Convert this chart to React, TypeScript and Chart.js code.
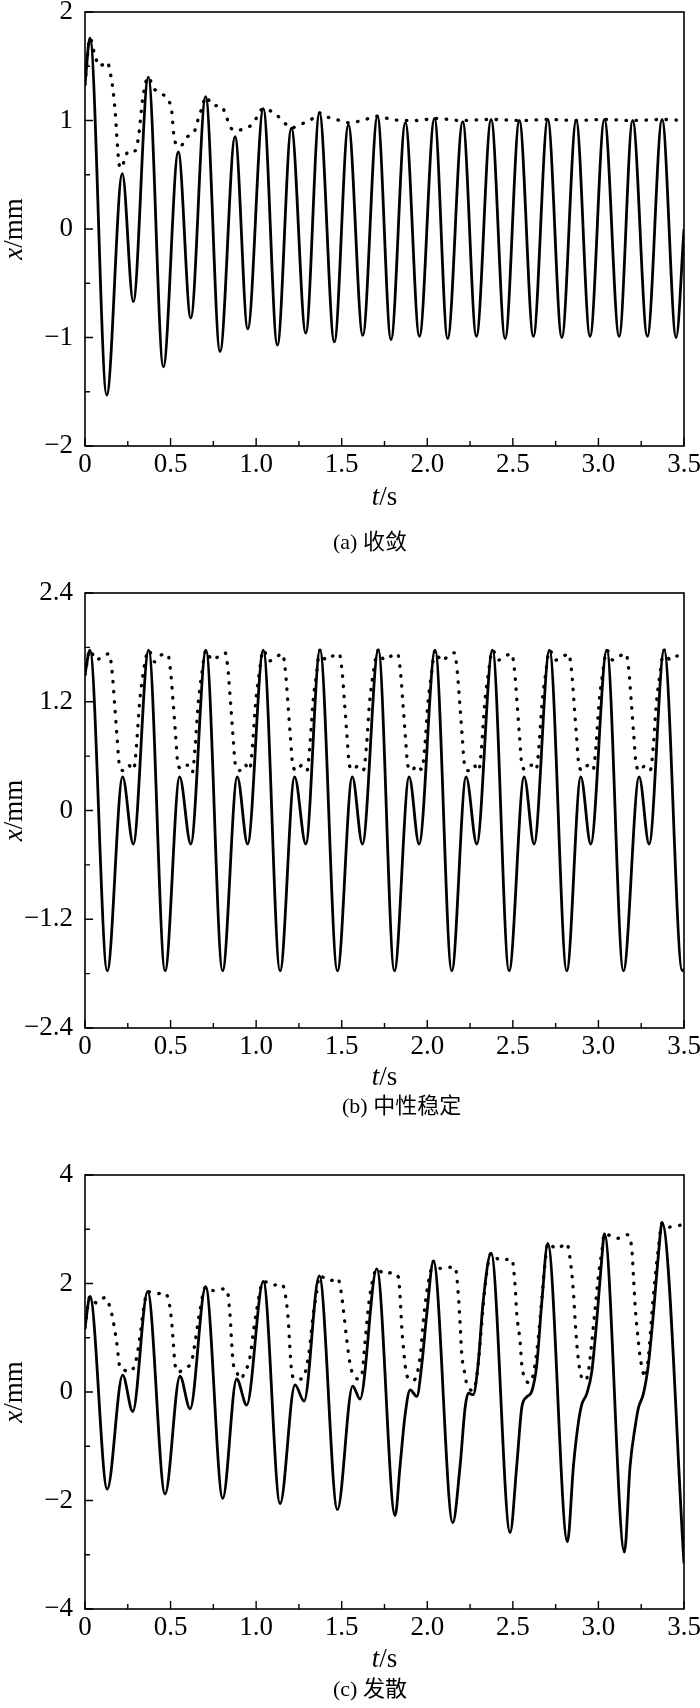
import React, { useEffect, useRef } from "react";
import { Chart, registerables } from "chart.js";

Chart.register(...registerables);

// ---------- shared axis data ----------
const xTickValues = [0, 0.5, 1, 1.5, 2, 2.5, 3, 3.5];
const xTickLabels = ["0", "0.5", "1.0", "1.5", "2.0", "2.5", "3.0", "3.5"];
const xMinorTicks = [0.25, 0.75, 1.25, 1.75, 2.25, 2.75, 3.25];

// ---------- panel (a) 收敛 ----------
const aYTicks = [-2, -1, 0, 1, 2];
const aYLabels = ["\u22122", "\u22121", "0", "1", "2"];
const aYMinor = [-1.5, -0.5, 0.5, 1.5];
const aSolidT = [0, 0.029, 0.127, 0.218, 0.282, 0.37, 0.458, 0.545, 0.618, 0.705, 0.789, 0.877, 0.951, 1.042, 1.124, 1.206, 1.29, 1.37, 1.457, 1.539, 1.623, 1.709, 1.788, 1.872, 1.954, 2.042, 2.119, 2.207, 2.287, 2.373, 2.455, 2.538, 2.62, 2.704, 2.786, 2.87, 2.951, 3.035, 3.121, 3.2, 3.286, 3.372, 3.454, 3.5];
const aSolidX = [1.33, 1.76, -1.53, 0.51, -0.67, 1.40, -1.27, 0.71, -0.82, 1.22, -1.13, 0.85, -0.92, 1.11, -1.07, 0.93, -0.96, 1.07, -1.04, 0.96, -0.98, 1.04, -1.02, 0.98, -0.99, 1.02, -1.01, 0.99, -0.99, 1.01, -1.01, 1.0, -0.99, 1.01, -1.0, 1.0, -0.99, 1.01, -0.99, 1.0, -0.99, 1.01, -1.0, 0.0];
const aDotT = [0, 0.029, 0.058, 0.084, 0.13, 0.15, 0.162, 0.177, 0.187, 0.2, 0.21, 0.234, 0.253, 0.292, 0.312, 0.321, 0.337, 0.37, 0.4, 0.442, 0.481, 0.507, 0.52, 0.53, 0.555, 0.598, 0.637, 0.659, 0.688, 0.705, 0.746, 0.799, 0.818, 0.844, 0.867, 0.925, 0.98, 1.042, 1.12, 1.178, 1.206, 1.25, 1.315, 1.37, 1.42, 1.49, 1.539, 1.62, 1.709, 1.79, 1.872, 1.95, 2.042, 2.2, 2.373, 2.55, 2.704, 2.87, 3.035, 3.2, 3.372, 3.5];
const aDotX = [1.33, 1.76, 1.60, 1.50, 1.54, 1.42, 1.30, 1.07, 0.83, 0.59, 0.56, 0.65, 0.72, 0.72, 0.84, 0.96, 1.20, 1.40, 1.30, 1.25, 1.20, 1.08, 0.85, 0.79, 0.76, 0.85, 0.89, 1.0, 1.14, 1.22, 1.14, 1.13, 1.07, 0.96, 0.91, 0.92, 0.97, 1.11, 1.05, 0.96, 0.93, 0.96, 1.0, 1.07, 1.03, 1.0, 0.98, 1.0, 1.04, 1.01, 1.0, 1.0, 1.02, 1.0, 1.01, 1.0, 1.01, 1.0, 1.01, 1.0, 1.01, 1.0];

// ---------- panel (b) 中性稳定 ----------
const bYTicks = [-2.4, -1.2, 0, 1.2, 2.4];
const bYLabels = ["\u22122.4", "\u22121.2", "0", "1.2", "2.4"];
const bYMinor = [-1.8, -0.6, 0.6, 1.8];
const bSolidT = [0,
  0.029, 0.13, 0.22, 0.282,
  0.372, 0.468, 0.553, 0.618,
  0.707, 0.804, 0.89, 0.95,
  1.042, 1.14, 1.225, 1.29,
  1.373, 1.475, 1.562, 1.621,
  1.714, 1.808, 1.894, 1.952,
  2.046, 2.143, 2.227, 2.289,
  2.381, 2.478, 2.566, 2.624,
  2.714, 2.815, 2.897, 2.955,
  3.049, 3.146, 3.238, 3.296,
  3.384, 3.49, 3.5];
const bSolidX = [1.5,
  1.77, -1.77, 0.37, -0.37,
  1.77, -1.77, 0.37, -0.37,
  1.77, -1.77, 0.37, -0.37,
  1.77, -1.77, 0.37, -0.37,
  1.77, -1.77, 0.37, -0.37,
  1.77, -1.77, 0.37, -0.37,
  1.77, -1.77, 0.37, -0.37,
  1.77, -1.77, 0.37, -0.37,
  1.77, -1.77, 0.37, -0.37,
  1.77, -1.77, 0.37, -0.37,
  1.77, -1.77, -1.75];
const bDotT = [0,
  0.029, 0.064, 0.109, 0.141, 0.159, 0.174, 0.187, 0.201, 0.224, 0.254, 0.284, 0.301, 0.317, 0.339,
  0.372, 0.407, 0.452, 0.484, 0.502, 0.517, 0.530, 0.544, 0.567, 0.597, 0.627, 0.644, 0.660, 0.682,
  0.707, 0.742, 0.787, 0.819, 0.837, 0.852, 0.865, 0.879, 0.902, 0.932, 0.962, 0.979, 0.995, 1.017,
  1.042, 1.077, 1.122, 1.154, 1.172, 1.187, 1.200, 1.214, 1.237, 1.267, 1.297, 1.314, 1.330, 1.352,
  1.373, 1.408, 1.453, 1.485, 1.503, 1.518, 1.531, 1.545, 1.568, 1.598, 1.628, 1.645, 1.661, 1.683,
  1.714, 1.749, 1.794, 1.826, 1.844, 1.859, 1.872, 1.886, 1.909, 1.939, 1.969, 1.986, 2.002, 2.024,
  2.046, 2.081, 2.126, 2.158, 2.176, 2.191, 2.204, 2.218, 2.241, 2.271, 2.301, 2.318, 2.334, 2.356,
  2.381, 2.416, 2.461, 2.493, 2.511, 2.526, 2.539, 2.553, 2.576, 2.606, 2.636, 2.653, 2.669, 2.691,
  2.714, 2.749, 2.794, 2.826, 2.844, 2.859, 2.872, 2.886, 2.909, 2.939, 2.969, 2.986, 3.002, 3.024,
  3.049, 3.084, 3.129, 3.161, 3.179, 3.194, 3.207, 3.221, 3.244, 3.274, 3.304, 3.321, 3.337, 3.359,
  3.384, 3.419, 3.464, 3.5];
const bDotX = [1.5,
  1.77, 1.66, 1.71, 1.73, 1.52, 1.15, 0.82, 0.50, 0.44, 0.50, 0.45, 0.72, 1.15, 1.50,
  1.77, 1.64, 1.72, 1.72, 1.50, 1.15, 0.82, 0.50, 0.46, 0.50, 0.42, 0.72, 1.15, 1.50,
  1.77, 1.66, 1.71, 1.74, 1.52, 1.15, 0.82, 0.50, 0.44, 0.51, 0.45, 0.72, 1.15, 1.50,
  1.77, 1.65, 1.70, 1.73, 1.52, 1.15, 0.82, 0.50, 0.44, 0.50, 0.44, 0.72, 1.15, 1.50,
  1.77, 1.66, 1.71, 1.73, 1.52, 1.15, 0.82, 0.50, 0.45, 0.50, 0.45, 0.72, 1.15, 1.50,
  1.77, 1.66, 1.71, 1.73, 1.52, 1.15, 0.82, 0.50, 0.44, 0.50, 0.45, 0.72, 1.15, 1.50,
  1.77, 1.65, 1.71, 1.74, 1.52, 1.15, 0.82, 0.50, 0.44, 0.50, 0.44, 0.72, 1.15, 1.50,
  1.77, 1.66, 1.71, 1.73, 1.52, 1.15, 0.82, 0.50, 0.45, 0.50, 0.45, 0.72, 1.15, 1.50,
  1.77, 1.66, 1.70, 1.73, 1.52, 1.15, 0.82, 0.50, 0.44, 0.50, 0.45, 0.72, 1.15, 1.50,
  1.77, 1.66, 1.71, 1.73, 1.52, 1.15, 0.82, 0.50, 0.44, 0.50, 0.45, 0.72, 1.15, 1.50,
  1.77, 1.66, 1.71, 1.74];

// ---------- panel (c) 发散 ----------
const cYTicks = [-4, -2, 0, 2, 4];
const cYLabels = ["\u22124", "\u22122", "0", "2", "4"];
const cYMinor = [-3, -1, 1, 3];
const cSolidT = [0, 0.029, 0.13, 0.22, 0.279, 0.366, 0.468, 0.555, 0.614, 0.705, 0.805, 0.886, 0.945, 1.042, 1.14, 1.227, 1.28, 1.369, 1.475, 1.564, 1.607, 1.705, 1.812, 1.841, 1.87, 1.9, 1.939, 1.968, 1.997, 2.036, 2.149, 2.192, 2.221, 2.24, 2.268, 2.297, 2.326, 2.373, 2.484, 2.523, 2.552, 2.581, 2.61, 2.64, 2.669, 2.704, 2.819, 2.854, 2.883, 2.903, 2.932, 2.961, 2.99, 3.019, 3.035, 3.152, 3.185, 3.215, 3.234, 3.263, 3.292, 3.321, 3.35, 3.372, 3.5];
const cSolidX = [1.18, 1.76, -1.79, 0.31, -0.36, 1.85, -1.88, 0.29, -0.31, 1.94, -1.96, 0.24, -0.24, 2.04, -2.06, 0.13, -0.17, 2.14, -2.17, 0.11, -0.13, 2.27, -2.28, -1.36, -0.43, 0.04, -0.08, 0.51, 1.44, 2.41, -2.41, -1.35, -0.29, -0.02, -0.05, 0.51, 1.65, 2.56, -2.59, -1.35, -0.29, -0.09, 0.01, 0.51, 1.65, 2.74, -2.76, -1.36, -0.56, -0.23, -0.03, 0.37, 1.31, 2.44, 2.92, -2.95, -1.36, -0.63, -0.29, -0.03, 0.51, 1.44, 2.51, 3.12, -3.16];
const cDotT = [0, 0.029,
  0.068, 0.117, 0.156, 0.185, 0.205, 0.224, 0.253, 0.283, 0.302, 0.322, 0.341, 0.366,
  0.419, 0.458, 0.487, 0.506, 0.516, 0.526, 0.545, 0.584, 0.623, 0.643, 0.672, 0.705,
  0.75, 0.789, 0.828, 0.847, 0.857, 0.867, 0.886, 0.906, 0.935, 0.964, 0.984, 1.003, 1.042,
  1.1, 1.149, 1.168, 1.188, 1.198, 1.208, 1.227, 1.266, 1.305, 1.334, 1.354, 1.369,
  1.432, 1.475, 1.49, 1.51, 1.529, 1.549, 1.568, 1.597, 1.617, 1.636, 1.656, 1.675, 1.705,
  1.753, 1.79, 1.831, 1.841, 1.85, 1.86, 1.88, 1.918, 1.958, 1.977, 1.997, 2.016, 2.036,
  2.075, 2.114, 2.163, 2.182, 2.192, 2.201, 2.221, 2.231, 2.268, 2.287, 2.307, 2.326, 2.346, 2.373,
  2.425, 2.494, 2.513, 2.523, 2.543, 2.552, 2.572, 2.601, 2.63, 2.65, 2.669, 2.688, 2.704,
  2.757, 2.815, 2.835, 2.854, 2.864, 2.877, 2.893, 2.922, 2.941, 2.961, 2.98, 2.999, 3.019, 3.035,
  3.107, 3.166, 3.195, 3.205, 3.215, 3.234, 3.244, 3.263, 3.273, 3.292, 3.312, 3.331, 3.35, 3.372,
  3.41, 3.44, 3.468, 3.5];
const cDotX = [1.18, 1.76,
  1.64, 1.74, 1.44, 0.91, 0.44, 0.41, 0.37, 0.44, 0.64, 1.04, 1.51, 1.85,
  1.81, 1.83, 1.71, 1.31, 0.91, 0.51, 0.37, 0.44, 0.57, 0.91, 1.51, 1.94,
  1.87, 1.90, 1.89, 1.44, 0.91, 0.51, 0.37, 0.24, 0.37, 0.64, 1.11, 1.51, 2.04,
  1.97, 1.99, 1.84, 1.31, 0.77, 0.37, 0.24, 0.24, 0.64, 1.44, 1.84, 2.14,
  2.05, 2.10, 1.97, 1.51, 0.97, 0.51, 0.31, 0.24, 0.31, 0.91, 1.57, 1.97, 2.27,
  2.17, 2.20, 2.12, 1.77, 1.24, 0.84, 0.31, 0.21, 0.64, 1.31, 1.84, 2.17, 2.41,
  2.28, 2.30, 2.30, 1.77, 1.24, 0.71, 0.31, 0.14, 0.03, 0.24, 0.84, 1.57, 2.17, 2.56,
  2.43, 2.45, 1.97, 1.44, 0.91, 0.51, 0.24, 0.17, 0.51, 1.04, 1.71, 2.37, 2.74,
  2.64, 2.74, 2.44, 1.84, 1.31, 0.77, 0.37, 0.21, 0.37, 0.91, 1.51, 2.11, 2.57, 2.92,
  2.83, 2.90, 2.64, 2.11, 1.57, 0.91, 0.64, 0.34, 0.27, 0.64, 1.44, 2.11, 2.64, 3.12,
  3.04, 3.05, 3.07, 3.08];

const captionA = "(a) 收敛";
const captionB = "(b) 中性稳定";
const captionC = "(c) 发散";

const SERIF = '"Liberation Serif", "Times New Roman", serif';
const CAP_FONT = '22px "Liberation Serif", "Noto Sans CJK SC", serif';

function pts(t: number[], x: number[]) {
  return t.map((v, i) => ({ x: v, y: x[i] }));
}

type PanelProps = {
  top: number;
  height: number;
  areaTop: number;
  areaBottom: number;
  solidT: number[];
  solidX: number[];
  dotT: number[];
  dotX: number[];
  yMin: number;
  yMax: number;
  yTicks: number[];
  yLabels: string[];
  yMinor: number[];
  caption: string;
  capX: number;
  capBase: number;
  titleBase: number;
};

function Panel(p: PanelProps) {
  const ref = useRef<HTMLCanvasElement | null>(null);
  useEffect(() => {
    const canvas = ref.current;
    if (!canvas) return;
    const decor = {
      id: "decor",
      afterDraw(chart: any) {
        const { ctx, chartArea: a, scales } = chart;
        const xs = scales.x;
        const ys = scales.y;
        ctx.save();
        ctx.strokeStyle = "#000";
        ctx.lineWidth = 1.6;
        ctx.strokeRect(a.left, a.top, a.right - a.left, a.bottom - a.top);
        ctx.lineWidth = 1.4;
        ctx.beginPath();
        xTickValues.forEach((v) => {
          const px = xs.getPixelForValue(v);
          ctx.moveTo(px, a.bottom);
          ctx.lineTo(px, a.bottom - 8);
        });
        xMinorTicks.forEach((v) => {
          const px = xs.getPixelForValue(v);
          ctx.moveTo(px, a.bottom);
          ctx.lineTo(px, a.bottom - 5);
        });
        p.yTicks.forEach((v) => {
          const py = ys.getPixelForValue(v);
          ctx.moveTo(a.left, py);
          ctx.lineTo(a.left + 8, py);
        });
        p.yMinor.forEach((v) => {
          const py = ys.getPixelForValue(v);
          ctx.moveTo(a.left, py);
          ctx.lineTo(a.left + 5, py);
        });
        ctx.stroke();

        ctx.fillStyle = "#000";
        ctx.textBaseline = "alphabetic";
        ctx.textAlign = "left";
        // x title t/s
        const italic = "italic 27px " + SERIF;
        const normal = "27px " + SERIF;
        ctx.font = italic;
        const w1 = ctx.measureText("t").width;
        ctx.font = normal;
        const w2 = ctx.measureText("/s").width;
        const cx = (a.left + a.right) / 2;
        const x0 = cx - (w1 + w2) / 2;
        ctx.font = italic;
        ctx.fillText("t", x0, p.titleBase);
        ctx.font = normal;
        ctx.fillText("/s", x0 + w1, p.titleBase);

        // y title x/mm
        ctx.save();
        ctx.translate(22, (a.top + a.bottom) / 2);
        ctx.rotate(-Math.PI / 2);
        ctx.font = italic;
        const v1 = ctx.measureText("x").width;
        ctx.font = normal;
        const v2 = ctx.measureText("/mm").width;
        const y0 = -(v1 + v2) / 2;
        ctx.font = italic;
        ctx.fillText("x", y0, 0);
        ctx.font = normal;
        ctx.fillText("/mm", y0 + v1, 0);
        ctx.restore();

        // caption
        ctx.font = CAP_FONT;
        ctx.fillText(p.caption, p.capX, p.capBase);
        ctx.restore();
      },
    };

    const chart = new Chart(canvas, {
      type: "line",
      data: {
        datasets: [
          {
            data: pts(p.solidT, p.solidX),
            borderColor: "#000",
            borderWidth: 2.8,
            borderJoinStyle: "round",
            pointRadius: 0,
            fill: false,
            cubicInterpolationMode: "monotone",
          },
          {
            data: pts(p.dotT, p.dotX),
            borderColor: "#000",
            borderWidth: 3.3,
            borderDash: [0.5, 9.5],
            borderCapStyle: "round",
            pointRadius: 0,
            fill: false,
            cubicInterpolationMode: "monotone",
          },
        ],
      } as any,
      options: {
        animation: false,
        responsive: false,
        devicePixelRatio: 1,
        layout: { padding: { top: p.areaTop, right: 16, bottom: 0, left: 0 } },
        plugins: { legend: { display: false }, tooltip: { enabled: false } },
        scales: {
          x: {
            type: "linear",
            min: 0,
            max: 3.5,
            grid: { display: false, drawTicks: false },
            border: { display: false },
            afterBuildTicks: (s: any) => {
              s.ticks = xTickValues.map((v) => ({ value: v }));
            },
            afterFit: (s: any) => {
              s.height = p.height - p.areaBottom;
              s.paddingLeft = 0;
              s.paddingRight = 0;
            },
            ticks: {
              autoSkip: false,
              maxRotation: 0,
              minRotation: 0,
              padding: 3,
              color: "#000",
              font: { family: SERIF, size: 27 },
              callback: (_v: any, i: number) => xTickLabels[i],
            },
          },
          y: {
            type: "linear",
            min: p.yMin,
            max: p.yMax,
            grid: { display: false, drawTicks: false },
            border: { display: false },
            afterBuildTicks: (s: any) => {
              s.ticks = p.yTicks.map((v) => ({ value: v }));
            },
            afterFit: (s: any) => {
              s.width = 85;
              s.paddingTop = 0;
              s.paddingBottom = 0;
            },
            ticks: {
              autoSkip: false,
              padding: 12,
              color: "#000",
              font: { family: SERIF, size: 27 },
              callback: (_v: any, i: number) => p.yLabels[i],
            },
          },
        },
      } as any,
      plugins: [decor],
    });
    return () => chart.destroy();
  }, []);
  return (
    <canvas
      ref={ref}
      width={700}
      height={p.height}
      style={{ position: "absolute", left: 0, top: p.top, width: 700, height: p.height }}
    />
  );
}

export default function App() {
  return (
    <div
      style={{
        position: "absolute",
        left: 0,
        top: 0,
        width: 700,
        height: 1708,
        background: "#fff",
        overflow: "hidden",
      }}
    >
      <Panel
        top={0}
        height={560}
        areaTop={12}
        areaBottom={446}
        solidT={aSolidT}
        solidX={aSolidX}
        dotT={aDotT}
        dotX={aDotX}
        yMin={-2}
        yMax={2}
        yTicks={aYTicks}
        yLabels={aYLabels}
        yMinor={aYMinor}
        caption={captionA}
        capX={333}
        capBase={549}
        titleBase={505}
      />
      <Panel
        top={560}
        height={565}
        areaTop={33}
        areaBottom={468}
        solidT={bSolidT}
        solidX={bSolidX}
        dotT={bDotT}
        dotX={bDotX}
        yMin={-2.4}
        yMax={2.4}
        yTicks={bYTicks}
        yLabels={bYLabels}
        yMinor={bYMinor}
        caption={captionB}
        capX={342}
        capBase={553}
        titleBase={525}
      />
      <Panel
        top={1140}
        height={568}
        areaTop={35}
        areaBottom={469}
        solidT={cSolidT}
        solidX={cSolidX}
        dotT={cDotT}
        dotX={cDotX}
        yMin={-4}
        yMax={4}
        yTicks={cYTicks}
        yLabels={cYLabels}
        yMinor={cYMinor}
        caption={captionC}
        capX={333}
        capBase={556}
        titleBase={527}
      />
    </div>
  );
}
